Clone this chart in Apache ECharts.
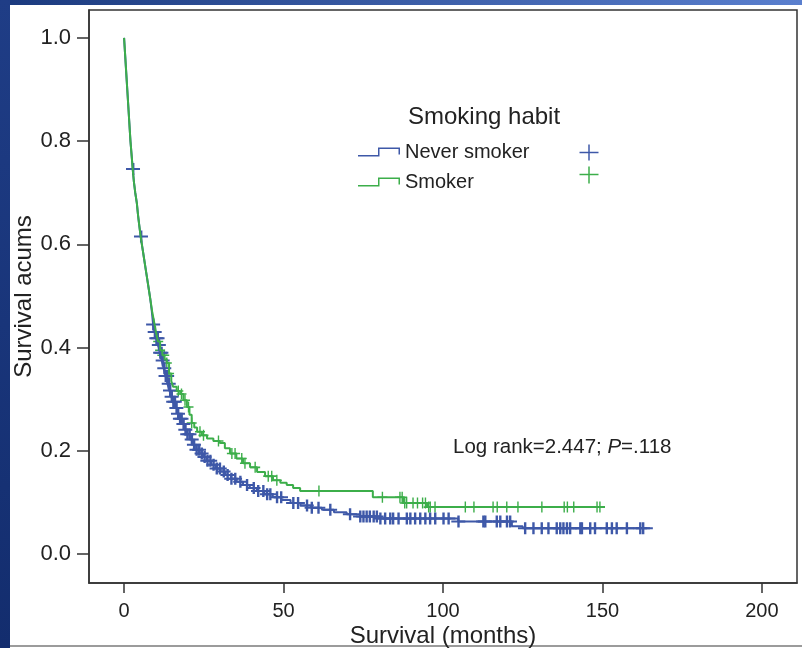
<!DOCTYPE html>
<html>
<head>
<meta charset="utf-8">
<script src="https://cdn.jsdelivr.net/npm/echarts@6/dist/echarts.min.js"></script>
<style>
  body { margin: 0; background: #fff; }
  #topband { position: absolute; left: 0; top: 0; width: 802px; height: 5px; background: linear-gradient(to right, #1b3a7e, #5a7fce); }
  #leftband { position: absolute; left: 0; top: 0; width: 10px; height: 648px; background: linear-gradient(to bottom, #1f3d86, #132d6e); }
  #bottomline { position: absolute; left: 10px; top: 645px; width: 792px; height: 2px; background: #9b9b9b; }
  #main { position: absolute; left: 0; top: 0; width: 802px; height: 648px; }
</style>
</head>
<body>
<div id="topband"></div>
<div id="leftband"></div>
<div id="bottomline"></div>
<div id="main"></div>
<script>
// step points (time in months, cumulative survival after the step)
var neverT = [0, 0.3, 0.6, 1.0, 1.3, 1.6, 2.0, 2.4, 2.7, 3.1, 3.5, 4.0, 4.4, 4.8, 5.2, 5.7, 6.2, 6.7, 7.2, 7.7, 8.2, 8.7, 9.1, 9.6, 10.1, 10.7, 11.2, 11.8, 12.4, 13.0, 13.6, 14.2, 14.8, 15.4, 16.0, 16.7, 17.4, 18.1, 18.9, 19.7, 20.6, 21.6, 22.6, 23.7, 24.8, 26.0, 27.3, 28.7, 30.2, 31.8, 33.5, 35.3, 37.3, 39.4, 41.6, 44.0, 46.6, 49.3, 52.2, 55.3, 58.6, 62.0, 65.8, 69.8, 74.0, 80.3, 104.8, 121.6, 125.0];
var neverS = [1.0, 0.97, 0.94, 0.90, 0.87, 0.84, 0.80, 0.77, 0.746, 0.72, 0.70, 0.68, 0.655, 0.635, 0.615, 0.595, 0.575, 0.555, 0.535, 0.515, 0.495, 0.47, 0.445, 0.43, 0.418, 0.405, 0.39, 0.375, 0.36, 0.345, 0.33, 0.317, 0.305, 0.295, 0.283, 0.272, 0.262, 0.252, 0.241, 0.232, 0.222, 0.212, 0.202, 0.195, 0.188, 0.181, 0.173, 0.166, 0.160, 0.153, 0.146, 0.140, 0.134, 0.128, 0.122, 0.116, 0.110, 0.105, 0.099, 0.094, 0.090, 0.086, 0.081, 0.077, 0.073, 0.069, 0.063, 0.054, 0.050];
var neverEnd = 165.8;
var neverCensor = [2.8, 5.3, 9.1, 9.6, 10.1, 10.5, 10.9, 11.3, 11.7, 12.1, 12.6, 13.0, 13.5, 14.0, 14.4, 14.9, 15.4, 15.9, 16.4, 16.9, 17.5, 18.0, 18.6, 19.2, 19.8, 20.5, 21.2, 21.9, 22.7, 23.5, 24.3, 25.2, 26.1, 27.0, 28.0, 29.0, 30.0, 31.2, 32.4, 33.6, 34.8, 36.4, 38.5, 40.6, 42.0, 43.6, 44.8, 45.8, 47.9, 49.2, 53.0, 54.5, 57.3, 58.8, 60.9, 64.6, 70.8, 74.0, 75.0, 76.0, 77.0, 78.2, 79.2, 80.3, 81.8, 83.4, 84.3, 86.0, 88.6, 89.7, 91.2, 92.8, 94.4, 95.9, 97.5, 100.1, 101.7, 104.8, 112.6, 113.2, 116.8, 117.9, 120.0, 121.0, 125.7, 128.3, 130.9, 133.0, 135.6, 136.7, 137.7, 138.8, 139.8, 143.0, 143.5, 146.1, 147.6, 151.3, 152.9, 154.4, 157.6, 161.8, 162.7];

var smokerT = [0, 0.3, 0.6, 1.0, 1.3, 1.6, 2.0, 2.4, 2.7, 3.1, 3.5, 4.0, 4.4, 4.8, 5.2, 5.7, 6.2, 6.7, 7.2, 7.7, 8.2, 8.8, 9.4, 10.0, 10.6, 11.3, 12.0, 12.7, 13.4, 14.1, 14.8, 15.4, 16.5, 17.6, 18.6, 19.7, 20.5, 21.2, 22.0, 22.9, 24.4, 26.0, 28.0, 30.0, 31.6, 33.2, 35.2, 37.3, 39.5, 41.7, 44.2, 46.7, 49.0, 51.0, 53.0, 55.2, 78.0, 87.5, 95.0];
var smokerS = [1.0, 0.97, 0.94, 0.90, 0.87, 0.84, 0.80, 0.77, 0.746, 0.72, 0.70, 0.68, 0.655, 0.635, 0.615, 0.595, 0.575, 0.555, 0.535, 0.515, 0.495, 0.47, 0.45, 0.43, 0.412, 0.395, 0.385, 0.377, 0.37, 0.35, 0.335, 0.324, 0.316, 0.31, 0.298, 0.285, 0.27, 0.254, 0.245, 0.237, 0.23, 0.224, 0.219, 0.215, 0.205, 0.195, 0.185, 0.176, 0.168, 0.159, 0.151, 0.143, 0.138, 0.134, 0.128, 0.122, 0.110, 0.099, 0.091];
var smokerEnd = 150.8;
var smokerCensor = [10.7, 11.3, 12.0, 12.6, 13.4, 14.1, 17.0, 18.0, 19.1, 20.2, 21.2, 23.8, 24.9, 29.6, 33.8, 34.8, 36.9, 37.9, 41.1, 45.2, 46.3, 47.9, 61.1, 81.0, 86.5, 87.2, 88.0, 88.6, 90.6, 92.0, 93.6, 94.5, 95.5, 96.0, 97.5, 107.0, 109.7, 115.7, 117.0, 120.0, 123.5, 131.0, 138.0, 139.0, 141.0, 148.3, 149.2];

var xTicks = [0, 50, 100, 150, 200];
var yTicks = [0, 0.2, 0.4, 0.6, 0.8, 1.0];

var blue = '#3e58a8';
var green = '#3cae4a';
var font = '"Liberation Sans", Arial, sans-serif';

function stepData(ts, ss, end) {
    var d = ts.map(function(t, i) { return [t, ss[i]]; });
    d.push([end, ss[ss.length - 1]]);
    return d;
}
function survAt(ts, ss, t) {
    var s = ss[0];
    for (var i = 0; i < ts.length; i++) {
        if (ts[i] <= t) s = ss[i];
    }
    return s;
}
function censorData(ts, ss, cs) {
    return cs.map(function(t) { return [t, survAt(ts, ss, t)]; });
}

var stepIcon = 'path://M0,7.5 L20,7.5 L20,0 L42,0 L42,7 L40.5,7 L40.5,1.5 L21.5,1.5 L21.5,9 L0,9 Z';
var plusBlue = 'path://M6,0 L8.4,0 L8.4,5 L14,5 L14,7 L8.4,7 L8.4,12 L6,12 L6,7 L0,7 L0,5 L6,5 Z';
var plusGreen = 'path://M4.3,0 L5.7,0 L5.7,4.3 L10,4.3 L10,5.7 L5.7,5.7 L5.7,10 L4.3,10 L4.3,5.7 L0,5.7 L0,4.3 L4.3,4.3 Z';

var chart = echarts.init(document.getElementById('main'));
var option = {
    animation: false,
    textStyle: { fontFamily: font },
    title: {
        text: 'Smoking habit',
        left: 408,
        top: 105,
        padding: 0,
        textStyle: { fontSize: 24, fontWeight: 'normal', color: '#222', fontFamily: font }
    },
    legend: {
        orient: 'vertical',
        left: 358,
        top: 142,
        padding: 0,
        itemWidth: 42,
        itemHeight: 9,
        itemGap: 10,
        itemTextGap: 8,
        selectedMode: false,
        icon: stepIcon,
        textStyle: { fontSize: 20, color: '#222', fontFamily: font },
        data: ['Never smoker', 'Smoker']
    },
    grid: {
        left: 89,
        right: 5,
        top: 10,
        bottom: 65,
        outerBoundsMode: 'none',
        containLabel: false,
        show: true,
        borderColor: '#333',
        borderWidth: 1.5,
        backgroundColor: 'transparent'
    },
    xAxis: {
        type: 'value',
        min: -11,
        max: 211,
        splitLine: { show: false },
        axisLine: { onZero: false, lineStyle: { color: '#333', width: 1.5 } },
        axisTick: { length: 10, lineStyle: { color: '#333', width: 1.5 }, customValues: xTicks },
        axisLabel: { customValues: xTicks, margin: 18, fontSize: 20, color: '#222', fontFamily: font },
        name: 'Survival (months)',
        nameLocation: 'middle',
        nameGap: 41,
        nameMoveOverlap: false,
        nameTextStyle: { fontSize: 24, color: '#222', fontFamily: font }
    },
    yAxis: {
        type: 'value',
        min: -0.056,
        max: 1.054,
        splitLine: { show: false },
        axisLine: { onZero: false, lineStyle: { color: '#333', width: 1.5 } },
        axisTick: { length: 12, lineStyle: { color: '#333', width: 1.5 }, customValues: yTicks },
        axisLabel: {
            customValues: yTicks, margin: 18, fontSize: 22, color: '#222', fontFamily: font,
            formatter: function(v) { return v.toFixed(1); }
        },
        name: 'Survival acums',
        nameLocation: 'middle',
        nameGap: 53,
        nameMoveOverlap: false,
        nameTextStyle: { fontSize: 24, color: '#222', fontFamily: font }
    },
    graphic: [
        {
            type: 'group', left: 577, top: 142,
            children: [
                { type: 'line', shape: { x1: 0, y1: 8, x2: 19, y2: 8 }, style: { stroke: blue, lineWidth: 1.5 } },
                { type: 'line', shape: { x1: 9.5, y1: 0, x2: 9.5, y2: 16 }, style: { stroke: blue, lineWidth: 1.5 } },
                { type: 'line', shape: { x1: 0, y1: 30, x2: 19, y2: 30 }, style: { stroke: green, lineWidth: 1.5 } },
                { type: 'line', shape: { x1: 9.5, y1: 22, x2: 9.5, y2: 39 }, style: { stroke: green, lineWidth: 1.5 } }
            ]
        },
        {
            type: 'text', left: 453, top: 437,
            style: {
                text: '{a|Log rank=2.447; }{b|P}{a|=.118}',
                rich: {
                    a: { fontSize: 20.5, fill: '#222', fontFamily: font },
                    b: { fontSize: 20.5, fill: '#222', fontStyle: 'italic', fontFamily: font }
                }
            }
        }
    ],
    series: [
        {
            name: 'Never smoker',
            type: 'line',
            step: 'end',
            color: blue,
            showSymbol: false,
            lineStyle: { width: 2, color: blue },
            data: stepData(neverT, neverS, neverEnd)
        },
        {
            name: 'Smoker',
            type: 'line',
            step: 'end',
            color: green,
            showSymbol: false,
            lineStyle: { width: 2, color: green },
            data: stepData(smokerT, smokerS, smokerEnd)
        },
        {
            name: 'Smoker censored',
            type: 'scatter',
            symbol: plusGreen,
            symbolSize: [10, 11],
            itemStyle: { color: green, opacity: 1 },
            data: censorData(smokerT, smokerS, smokerCensor)
        },
        {
            name: 'Never smoker censored',
            type: 'scatter',
            symbol: plusBlue,
            symbolSize: [14, 12],
            itemStyle: { color: blue, opacity: 1 },
            data: censorData(neverT, neverS, neverCensor)
        }
    ]
};
chart.setOption(option);
</script>
</body>
</html>
